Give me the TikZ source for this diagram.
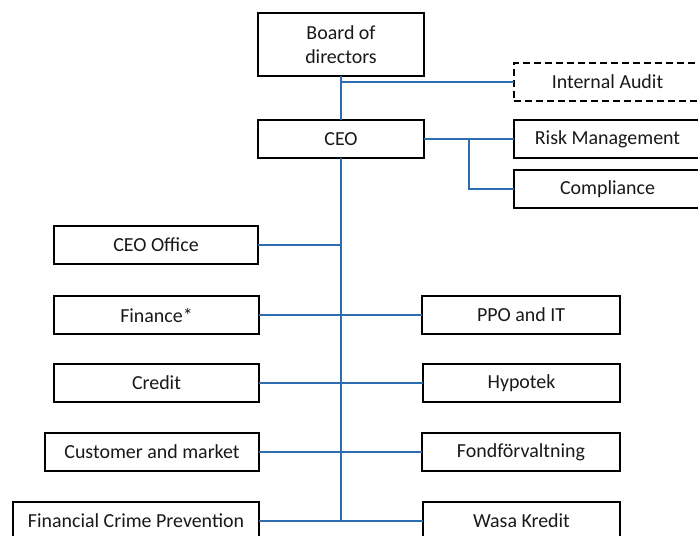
\documentclass[tikz,border=0pt]{standalone}
\usepackage{fontspec}
\setmainfont{Carlito}
\definecolor{linkblue}{RGB}{46,108,176}
\begin{document}
\begin{tikzpicture}[x=1bp,y=-1bp,
  box/.style={draw=black,line width=2bp,rectangle,inner sep=0pt,outer sep=0pt,
    font=\fontsize{20}{24}\selectfont,align=center,text=black!90},
  dbox/.style={box,dashed,dash pattern=on 7bp off 4bp},
  link/.style={draw=linkblue,line width=2bp}]
\useasboundingbox (0,0) rectangle (698,536);
\clip (0,0) rectangle (698,536);
\fill[white] (0,0) rectangle (698,536);
% nodes
\node[box,minimum width=166bp,minimum height=63bp] (board) at (341,44.5) {Board of\\directors};
\node[dbox,minimum width=187bp,minimum height=38bp] (audit) at (607.5,82) {Internal Audit};
\node[box,minimum width=166bp,minimum height=38bp] (ceo) at (341,139) {CEO};
\node[box,minimum width=187bp,minimum height=38bp] (risk) at (607.5,139) {Risk Management};
\node[box,minimum width=187bp,minimum height=38bp] (comp) at (607.5,189) {Compliance};
\node[box,minimum width=204bp,minimum height=38bp] (ceooff) at (156,245) {CEO Office};
\node[box,minimum width=205bp,minimum height=38bp] (fin) at (156.5,315) {Finance*};
\node[box,minimum width=198bp,minimum height=38bp] (ppo) at (521,315) {PPO and IT};
\node[box,minimum width=205bp,minimum height=38bp] (credit) at (156.5,383) {Credit};
\node[box,minimum width=197bp,minimum height=38bp] (hyp) at (521.5,383) {Hypotek};
\node[box,minimum width=214bp,minimum height=38bp] (cust) at (152,452) {Customer and market};
\node[box,minimum width=198bp,minimum height=38bp] (fond) at (521,452) {Fondförvaltning};
\node[box,minimum width=246bp,minimum height=38bp] (fcp) at (136,521) {Financial Crime Prevention};
\node[box,minimum width=197bp,minimum height=38bp] (wasa) at (521.5,521) {Wasa Kredit};
% coordinates
\coordinate (tAudit) at (board.south |- audit.west);
\coordinate (tOff) at (board.south |- ceooff.east);
\coordinate (tEnd) at (board.south |- fcp.east);
\coordinate (br1) at (469,139);
\coordinate (br2) at (br1 |- comp.west);
% connectors
\draw[link] (board.south) -- (ceo.north);
\draw[link] (tAudit) -- (audit.west);
\draw[link] (ceo.south) -- (tEnd);
\draw[link] (ceo.east) -- (risk.west);
\draw[link] (br1) -- (br2) -- (comp.west);
\draw[link] (ceooff.east) -- (tOff);
\draw[link] (fin.east) -- (ppo.west);
\draw[link] (credit.east) -- (hyp.west);
\draw[link] (cust.east) -- (fond.west);
\draw[link] (fcp.east) -- (wasa.west);
\end{tikzpicture}
\end{document}
